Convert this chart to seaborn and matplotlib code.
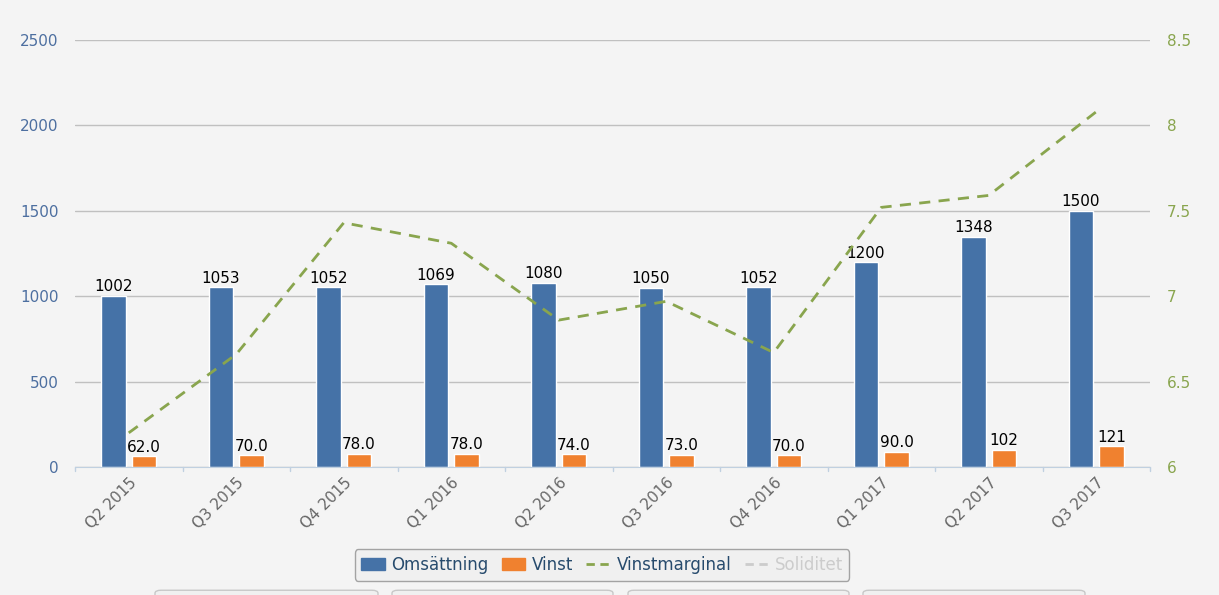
import numpy as np
import pandas as pd
import matplotlib
matplotlib.use("Agg")
import matplotlib.pyplot as plt
import seaborn as sns
from matplotlib.patches import FancyBboxPatch, Patch
from matplotlib.lines import Line2D

quarters = ["Q2 2015", "Q3 2015", "Q4 2015", "Q1 2016", "Q2 2016",
            "Q3 2016", "Q4 2016", "Q1 2017", "Q2 2017", "Q3 2017"]
omsattning = [1002, 1053, 1052, 1069, 1080, 1050, 1052, 1200, 1348, 1500]
vinst = [62.0, 70.0, 78.0, 78.0, 74.0, 73.0, 70.0, 90.0, 102, 121]
vinstmarginal = [6.20, 6.66, 7.43, 7.31, 6.86, 6.97, 6.67, 7.52, 7.59, 8.08]

BLUE = "#4572a7"
ORANGE = "#f0812f"
GREEN = "#89a54e"
BG = "#f4f4f4"

sns.set_style("white")
plt.rcParams['font.family'] = ['Lucida Grande', 'DejaVu Sans']

fig = plt.figure(figsize=(12.19, 5.95), dpi=100, facecolor=BG)
ax = fig.add_axes([75/1219, 1-467/595, 1075/1219, 427/595])
ax.set_facecolor(BG)

df = pd.DataFrame({
    "Kvartal": quarters * 2,
    "Serie": ["Omsättning"] * 10 + ["Vinst"] * 10,
    "Värde": omsattning + vinst,
})
sns.barplot(data=df, x="Kvartal", y="Värde", hue="Serie",
            palette=[BLUE, ORANGE], width=0.57, gap=0.19, ax=ax,
            legend=False, saturation=1)

for cont, vals in zip(ax.containers, [omsattning, vinst]):
    labels = [f"{v:.0f}" if v >= 100 else f"{v:.1f}" for v in vals]
    ax.bar_label(cont, labels=labels, padding=1, fontsize=11, color="black")

ax.set_xlim(-0.5, 9.5)
ax.set_ylim(0, 2500)
ax.set_yticks([0, 500, 1000, 1500, 2000, 2500])
ax.yaxis.grid(True, color="#c0c0c0", linewidth=1)
ax.set_axisbelow(True)
for s in ["top", "right", "left"]:
    ax.spines[s].set_visible(False)
ax.spines["bottom"].set_color("#c0d0e0")
ax.set_xlabel("")
ax.set_ylabel("")
ax.tick_params(axis="y", length=0, labelcolor="#4d6fa0", labelsize=11, pad=12)
ax.set_xticks(np.arange(10))
ax.set_xticklabels(quarters, rotation=45, ha="right", rotation_mode="anchor",
                   color="#666666", fontsize=11)
ax.tick_params(axis="x", length=0, pad=6)
for xb in np.arange(-0.5, 10, 1):
    ax.plot([xb, xb], [0, -25], color="#c0d0e0", lw=1, clip_on=False)

ax2 = ax.twinx()
sns.lineplot(x=np.arange(10), y=vinstmarginal, ax=ax2, color=GREEN,
             linewidth=2, linestyle=(0, (4, 3)))
ax2.set_ylim(6, 8.5)
ax2.set_yticks([6, 6.5, 7, 7.5, 8, 8.5])
ax2.set_yticklabels(["6", "6.5", "7", "7.5", "8", "8.5"])
ax2.tick_params(axis="y", length=0, labelcolor=GREEN, labelsize=11, pad=12)
for s in ax2.spines.values():
    s.set_visible(False)

# partial buttons at the top
for x0, x1 in [(155, 378), (392, 613), (628, 849), (863, 1085)]:
    fig.patches.append(FancyBboxPatch((x0/1219, -0.05), (x1-x0)/1219, 0.058,
                       boxstyle="round,pad=0,rounding_size=0.005",
                       transform=fig.transFigure, facecolor="#f0f0f0",
                       edgecolor="#c8c8c8", lw=1))

handles = [Patch(color=BLUE), Patch(color=ORANGE),
           Line2D([], [], color=GREEN, lw=2, ls=(0, (3, 2))),
           Line2D([], [], color="#cccccc", lw=2, ls=(0, (3, 2)))]
leg = fig.legend(handles, ["Omsättning", "Vinst", "Vinstmarginal", "Soliditet"],
                 loc="center", bbox_to_anchor=(602/1219, 1-565/595), ncol=4,
                 frameon=True, fontsize=12, handlelength=1.4, columnspacing=0.8,
                 handletextpad=0.4, fancybox=True)
leg.get_frame().set_facecolor("#f0f0f0")
leg.get_frame().set_edgecolor("#909090")
for t, c in zip(leg.get_texts(), ["#274b6d", "#274b6d", "#274b6d", "#cccccc"]):
    t.set_color(c)

fig.savefig("out.png", dpi=100, facecolor=BG)
